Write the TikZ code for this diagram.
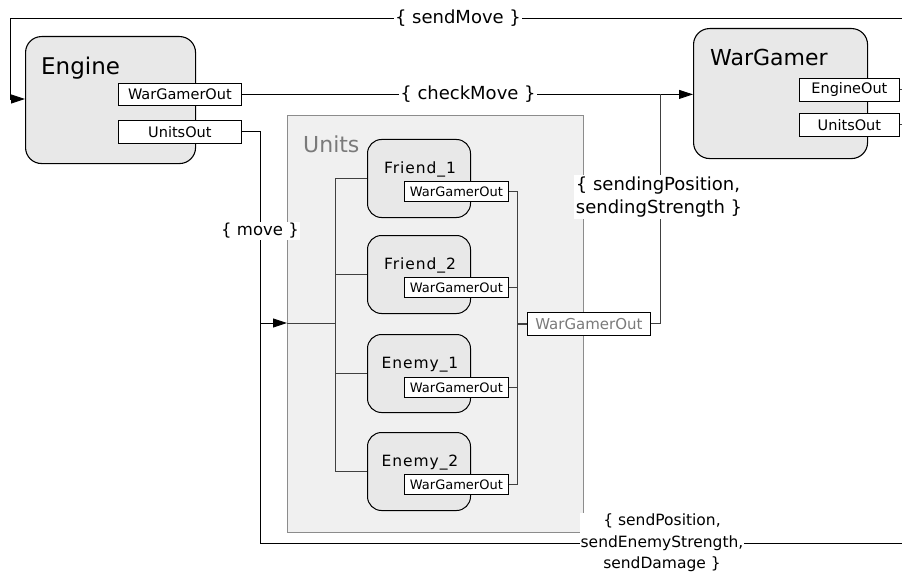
\documentclass[tikz,border=0pt]{standalone}
\usepackage{fontspec}
\setmainfont{DejaVu Sans}
\usetikzlibrary{arrows.meta,positioning}
\definecolor{boxfill}{HTML}{E8E8E8}
\definecolor{unitsfill}{HTML}{F0F0F0}
\definecolor{unitsline}{HTML}{8C8C8C}
\definecolor{wire}{HTML}{404040}
\definecolor{graytext}{HTML}{7A7A7A}
\newcommand{\fs}[1]{\fontsize{#1}{#1}\selectfont}
\newcommand{\fsl}[2]{\fontsize{#1}{#2}\selectfont}
\newcommand{\spaced}{\addfontfeatures{LetterSpace=6}}
\tikzset{
  x=1pt, y=-1pt,
  comp/.style={draw=black, line width=1.1pt, fill=boxfill, rounded corners=16pt, inner sep=0pt, anchor=north west},
  unitcomp/.style={draw=black, line width=1pt, fill=boxfill, rounded corners=14pt, inner sep=0pt, anchor=north west, minimum width=103pt, minimum height=78pt},
  port/.style={draw=black, line width=0.8pt, fill=white, inner sep=0pt, anchor=north west},
  wline/.style={draw=black, line width=0.9pt},
  iline/.style={draw=wire, line width=0.9pt},
  tip/.style={-{Triangle[length=14pt,width=9pt]}},
  elabel/.style={fill=white, inner sep=1.5pt, font=\fs{18}, align=center},
  unitname/.style={anchor=base, inner sep=0pt, font=\fs{15.5}\spaced},
  title/.style={anchor=base west, inner sep=0pt},
}
\begin{document}
\begin{tikzpicture}
\useasboundingbox (0,0) rectangle (902,575);
% main components
\node[comp, minimum width=170pt, minimum height=127pt] (engine) at (25,36) {};
\node[title, font=\fs{23}] (enginet) at (41,75) {Engine};
\node[comp, minimum width=174pt, minimum height=130pt] (wargamer) at (693,28) {};
\node[title, font=\fs{22}] (wargamert) at (710,66) {WarGamer};
% units container
\node[draw=unitsline, line width=1pt, fill=unitsfill, anchor=north west, inner sep=0pt, minimum width=296pt, minimum height=417pt] (units) at (287,115) {};
\node[title, font=\fs{22}, text=graytext] (unitst) at (303,153) {Units};
% ports of engine and wargamer
\node[port, minimum width=123pt, minimum height=22pt, font=\fs{14.5}] (engwg) at (118,83) {WarGamerOut};
\node[port, minimum width=123pt, minimum height=23pt, font=\fs{14.5}] (engu) at (118,120) {UnitsOut};
\node[port, minimum width=100pt, minimum height=23pt, font=\fs{14.5}] (wgeng) at (799,78) {EngineOut};
\node[port, minimum width=100pt, minimum height=23pt, font=\fs{14.5}] (wgu) at (799,113) {UnitsOut};
% units
\node[unitcomp] (f1) at (367,139) {};
\node[unitcomp] (f2) at (367,235) {};
\node[unitcomp] (e1) at (367,334) {};
\node[unitcomp] (e2) at (367,432) {};
\node[unitname] (f1t) at (420,173) {Friend\_1};
\node[unitname] (f2t) at (420,269) {Friend\_2};
\node[unitname] (e1t) at (420,368) {Enemy\_1};
\node[unitname] (e2t) at (420,466) {Enemy\_2};
\node[port, minimum width=104pt, minimum height=20pt, font=\fs{13}] (f1p) at (404,181) {WarGamerOut};
\node[port, minimum width=104pt, minimum height=20pt, font=\fs{13}] (f2p) at (404,277) {WarGamerOut};
\node[port, minimum width=104pt, minimum height=20pt, font=\fs{13}] (e1p) at (404,377) {WarGamerOut};
\node[port, minimum width=104pt, minimum height=20pt, font=\fs{13}] (e2p) at (404,474) {WarGamerOut};
\node[port, minimum width=123pt, minimum height=23pt, font=\fs{15}, text=graytext] (up) at (527,312) {WarGamerOut};
% coordinates
\coordinate (tr) at (902,18);
\coordinate (tl) at (10,18);
\coordinate (br) at (902,543);
\coordinate (lbus) at (335,0);
\coordinate (rbus) at (517,0);
% sendMove
\draw[wline, tip] (tr) -- (tl) |- (engine.west |- 0,99);
% checkMove
\draw[wline, tip] (engwg.east) -- (wargamer.west |- engwg.east);
\draw[wline, draw=wire] (up.east) -| (660,94);
% UnitsOut to units and back
\draw[wline] (engu.east) -| (260,543) -- (br);
\draw[wline, tip] (260,323) -- (units.west |- 0,323);
\draw[iline] (units.west |- 0,323) -- (335,323);
% left bus
\draw[iline] (f1.west) -| (e2.west -| lbus) -- (e2.west);
\draw[iline] (f2.west) -- (f2.west -| lbus);
\draw[iline] (e1.west) -- (e1.west -| lbus);
% right bus
\draw[iline] (f1p.east) -| (e2p.east -| rbus) -- (e2p.east);
\draw[iline] (f2p.east) -- (f2p.east -| rbus);
\draw[iline] (e1p.east) -- (e1p.east -| rbus);
\draw[iline, line width=1.8pt] (up.west -| rbus) -- (up.west);
% wargamer port stubs
\draw[wline, draw=wire] (wgeng.east) -- (wgeng.east -| tr);
\draw[wline, draw=wire] (wgu.east) -- (wgu.east -| tr);
% labels
\node[elabel] (lsm) at (458,18) {\{ sendMove \}};
\node[elabel] (lcm) at (468,94) {\{ checkMove \}};
\node[elabel, font=\fs{16.5}] (lmv) at (260,231) {\{ move \}};
\node[elabel, align=left, inner sep=2pt, font=\fsl{18}{23}] (lsp) at (659,197) {\{ sendingPosition,\\sendingStrength \}};
\node[elabel, align=center, inner sep=1pt, font=\fsl{15.5}{21.5}] (lbot) at (662,543) {\{ sendPosition,\\sendEnemyStrength,\\sendDamage \}};
\end{tikzpicture}
\end{document}
